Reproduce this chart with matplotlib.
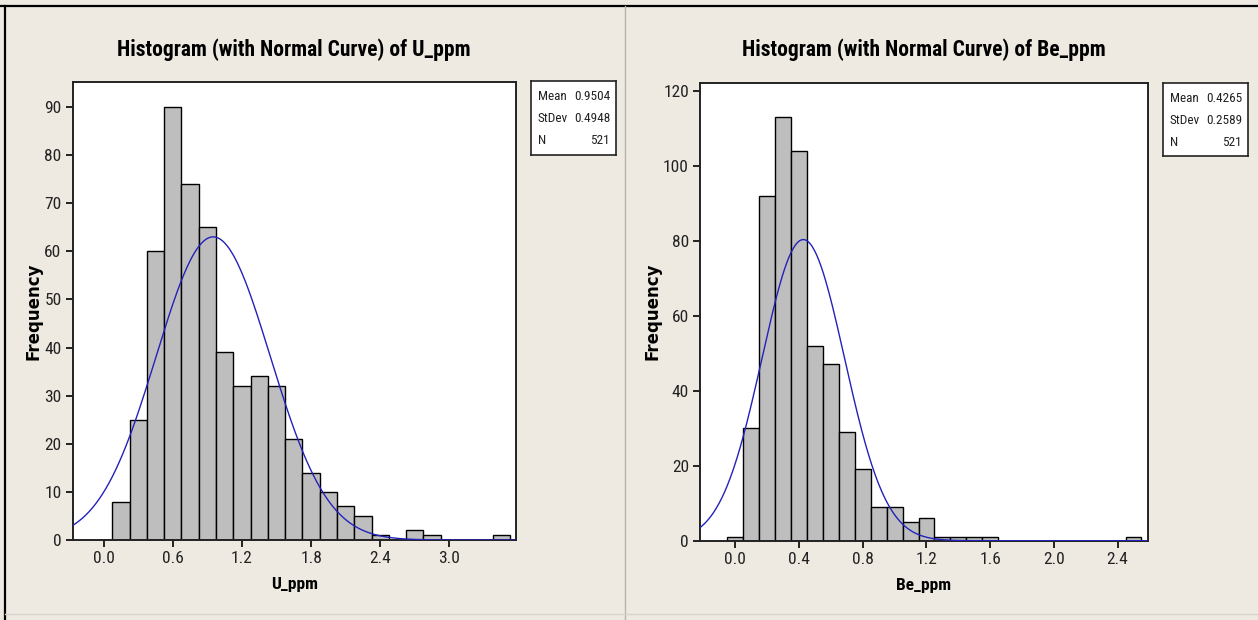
import numpy as np
import matplotlib.pyplot as plt
from matplotlib import font_manager
from matplotlib.lines import Line2D

# U_ppm histogram: bins of 0.15 centred on 0.15, 0.30, ...
u_first = 0.15
u_step = 0.15
u_counts = [8, 25, 60, 90, 74, 65, 39, 32, 34, 32, 21, 14, 10, 7, 5, 1, 0, 2, 1, 0, 0, 0, 1]
u_mean, u_sd, u_n = 0.9504, 0.4948, 521
u_xticks = [0.0, 0.6, 1.2, 1.8, 2.4, 3.0]
u_yticks = [0, 10, 20, 30, 40, 50, 60, 70, 80, 90]

# Be_ppm histogram: bins of 0.1 centred on 0.0, 0.1, ...
be_first = 0.0
be_step = 0.1
be_counts = [1, 30, 92, 113, 104, 52, 47, 29, 19, 9, 9, 5, 6, 1, 1, 1, 1,
             0, 0, 0, 0, 0, 0, 0, 0, 1]
be_mean, be_sd, be_n = 0.4265, 0.2589, 521
be_xticks = [0.0, 0.4, 0.8, 1.2, 1.6, 2.0, 2.4]
be_yticks = [0, 20, 40, 60, 80, 100, 120]

BG = '#EEEAE1'
BAR = '#BEBEBE'
CURVE = '#2222BB'


def pick_font(names):
	have = set(f.name for f in font_manager.fontManager.ttflist)
	for n in names:
		if n in have:
			return n
	return 'DejaVu Sans'


NARROW = pick_font(['Liberation Sans Narrow', 'DejaVu Sans Condensed', 'Roboto Condensed', 'Liberation Sans'])


def draw_panel(fig, rect, var, first, step, counts, mean, sd, n, xticks, yticks, xlim, ylim, legend_rect):
	ax = fig.add_axes(rect)
	ax.set_facecolor('white')
	centers = first + step * np.arange(len(counts))
	ax.bar(centers, counts, width=step, color=BAR, edgecolor='black', linewidth=1.0, zorder=2)

	xs = np.linspace(xlim[0], xlim[1], 400)
	ys = n * step / (sd * np.sqrt(2 * np.pi)) * np.exp(-0.5 * ((xs - mean) / sd) ** 2)
	ax.plot(xs, ys, color=CURVE, linewidth=1.0, zorder=3)

	ax.set_xlim(xlim)
	ax.set_ylim(ylim)
	ax.set_xticks(xticks)
	ax.set_xticklabels(['%.1f' % t for t in xticks])
	ax.set_yticks(yticks)
	for s in ax.spines.values():
		s.set_linewidth(1.4)
		s.set_color('#222222')
	ax.tick_params(direction='out', length=5, width=1.2, labelsize=12.5, pad=3)
	for lbl in ax.get_xticklabels() + ax.get_yticklabels():
		lbl.set_fontfamily(NARROW)
		lbl.set_color('#222222')

	ax.set_title('Histogram (with Normal Curve) of ' + var, fontsize=15.5, fontweight='bold',
		family=NARROW, pad=19)
	ax.set_xlabel(var, fontsize=12.5, fontweight='bold', family=NARROW, labelpad=8)
	ax.set_ylabel('Frequency', fontsize=12, fontweight='bold', family='DejaVu Sans', labelpad=1)

	# stats box on the right of the plot
	lg = fig.add_axes(legend_rect)
	lg.set_xticks([])
	lg.set_yticks([])
	lg.set_facecolor('white')
	for s in lg.spines.values():
		s.set_linewidth(1.2)
		s.set_color('#222222')
	rows = [('Mean', '%.4f' % mean), ('StDev', '%.4f' % sd), ('N', '%d' % n)]
	for i, (k, v) in enumerate(rows):
		y = 0.79 - i * 0.30
		lg.text(0.08, y, k, fontsize=9.5, family=NARROW, va='center', ha='left', color='#222222')
		lg.text(0.93, y, v, fontsize=9.5, family=NARROW, va='center', ha='right', color='#222222')
	return ax


def main():
	fig = plt.figure(figsize=(12.58, 6.2), dpi=100, facecolor=BG)
	W, H = 1258.0, 620.0

	def r(x0, y0, x1, y1):
		return [x0 / W, 1 - y1 / H, (x1 - x0) / W, (y1 - y0) / H]

	draw_panel(fig, r(72.7, 82, 515.7, 540), 'U_ppm', u_first, u_step, u_counts,
		u_mean, u_sd, u_n, u_xticks, u_yticks, (-0.269, 3.576), (0, 95.2),
		r(531, 81, 616, 155))
	draw_panel(fig, r(700, 82.7, 1147.7, 540.7), 'Be_ppm', be_first, be_step, be_counts,
		be_mean, be_sd, be_n, be_xticks, be_yticks, (-0.222, 2.589), (0, 122.1),
		r(1163, 82.7, 1248, 156))

	# window frames around the two graphs
	fig.add_artist(Line2D([0, 1], [1 - 6 / H, 1 - 6 / H], color='black', linewidth=1.6))
	fig.add_artist(Line2D([5 / W, 5 / W], [0, 1 - 6 / H], color='black', linewidth=1.6))
	fig.add_artist(Line2D([625 / W, 625 / W], [0, 1 - 6 / H], color='#B8B4AC', linewidth=1.0))
	fig.add_artist(Line2D([5 / W, 1], [1 - 614 / H, 1 - 614 / H], color='#D8D4CC', linewidth=1.0))

	fig.savefig('out.png', dpi=100, facecolor=BG)


if __name__ == "__main__":
	main()
